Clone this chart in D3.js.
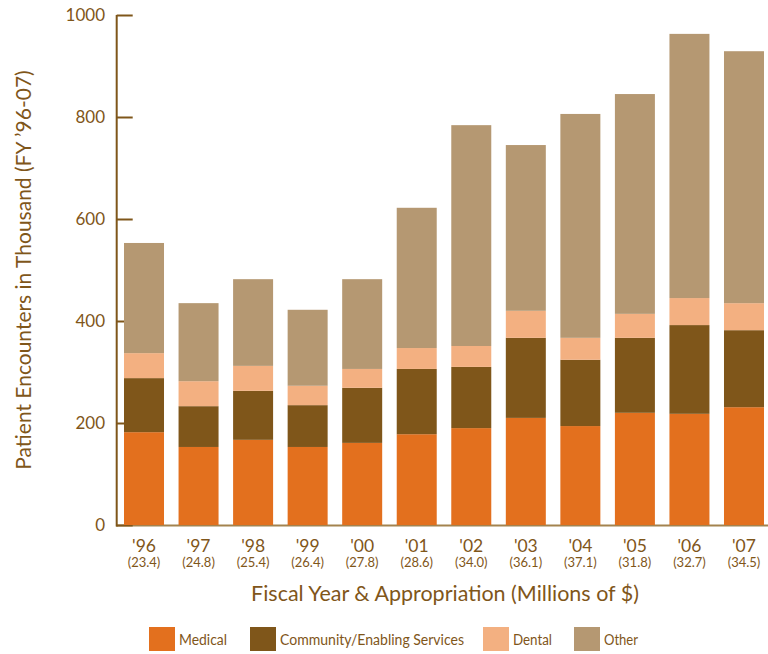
<!DOCTYPE html>
<html><head><meta charset="utf-8">
<script src="https://cdn.jsdelivr.net/npm/d3@7"></script>
<style>body{margin:0;background:#fff}svg{display:block}text{font-family:Lato,"Open Sans",sans-serif;fill:#7F561A}</style>
</head><body><svg id="c" width="768" height="654"></svg>
<script>
const years = ["'96","'97","'98","'99","'00","'01","'02","'03","'04","'05","'06","'07"];
const appropriations = ["(23.4)","(24.8)","(25.4)","(26.4)","(27.8)","(28.6)","(34.0)","(36.1)","(37.1)","(31.8)","(32.7)","(34.5)"];
const medical   = [182,153,167,153,161,178,190,210,194,220,218,231];
const community = [106, 80, 96, 82,108,128,120,157,130,147,174,151];
const dental    = [ 49, 49, 49, 38, 37, 41, 41, 53, 43, 47, 53, 53];
const other     = [216,153,170,149,176,275,433,325,439,431,518,494];
const seriesNames = ["Medical","Community/Enabling Services","Dental","Other"];
const seriesColors = ["#E3701E","#7F561A","#F3B081","#B59872"];
const yTicks = [0,200,400,600,800,1000];

const svg = d3.select("#c");
const x = d3.scaleBand().domain(years).range([116.7,771.3]).paddingInner(0.2667).paddingOuter(0.134);
const y = d3.scaleLinear().domain([0,1000]).range([525,15]);

const rows = years.map((yr,i)=>({year:yr, Medical:medical[i], "Community/Enabling Services":community[i], Dental:dental[i], Other:other[i]}));
const stacked = d3.stack().keys(seriesNames)(rows);

// x axis baseline
svg.append("line").attr("x1",116).attr("x2",768).attr("y1",y(0)+0.5).attr("y2",y(0)+0.5)
  .attr("stroke","#A3834F").attr("stroke-width",2);

// y axis
const yAxis = d3.axisRight(y).tickValues(yTicks).tickSize(16).tickFormat("");
const gy = svg.append("g").attr("transform","translate(116.7,0)").call(yAxis);
gy.select(".domain").attr("stroke","#7F561A").attr("stroke-width",2).attr("d","M0,"+(y(1000))+"V"+(y(0)+1.5));
gy.selectAll(".tick line").attr("stroke","#7F561A").attr("stroke-width",2);
svg.append("g").selectAll("text").data(yTicks).join("text")
  .attr("x",105).attr("y",d=>y(d)+6).attr("text-anchor","end")
  .style("font-size","17px").text(d=>d);

// bars
svg.append("g").selectAll("g").data(stacked).join("g")
  .attr("fill",(d,i)=>seriesColors[i])
  .selectAll("rect").data(d=>d).join("rect")
  .attr("x",d=>x(d.data.year)).attr("width",x.bandwidth())
  .attr("y",d=>y(d[1])).attr("height",d=>y(d[0])-y(d[1]));

// x labels
const gx = svg.append("g");
gx.selectAll("text.yr").data(years).join("text").attr("class","yr")
  .attr("x",d=>x(d)+x.bandwidth()/2).attr("y",552).attr("text-anchor","middle")
  .style("font-size","17.5px").text(d=>d);
gx.selectAll("text.ap").data(appropriations).join("text").attr("class","ap")
  .attr("x",(d,i)=>x(years[i])+x.bandwidth()/2).attr("y",567).attr("text-anchor","middle")
  .style("font-size","13px").text(d=>d);

// axis titles
svg.append("text").attr("x",445).attr("y",601).attr("text-anchor","middle")
  .style("font-size","21.5px").text("Fiscal Year & Appropriation (Millions of $)");
svg.append("text").attr("transform","translate(31,270) rotate(-90)").attr("text-anchor","middle")
  .style("font-size","21px").text("Patient Encounters in Thousand (FY ’96-07)");

// legend
const legX = [149,250,483,574];
const legW = [48,184,39,34];
const lg = svg.append("g").selectAll("g").data(seriesNames).join("g")
  .attr("transform",(d,i)=>`translate(${legX[i]},627)`);
lg.append("rect").attr("width",26).attr("height",24).attr("fill",(d,i)=>seriesColors[i]);
lg.append("text").attr("x",30).attr("y",18).style("font-size","15.5px")
  .attr("textLength",(d,i)=>legW[i]).attr("lengthAdjust","spacingAndGlyphs").text(d=>d);
</script></body></html>
